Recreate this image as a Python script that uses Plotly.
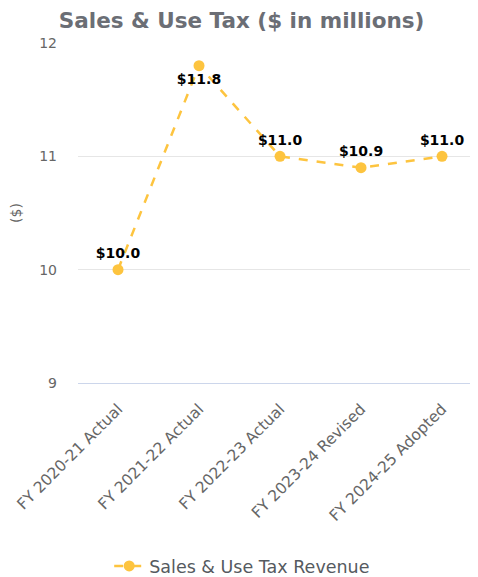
import plotly.graph_objects as go

categories = ["FY 2020-21 Actual", "FY 2021-22 Actual", "FY 2022-23 Actual",
              "FY 2023-24 Revised", "FY 2024-25 Adopted"]
values = [10.0, 11.8, 11.0, 10.9, 11.0]
labels = ["$10.0", "$11.8", "$11.0", "$10.9", "$11.0"]
label_pos = ["top center", "bottom center", "top center", "top center", "top center"]
y_ticks = [9, 10, 11, 12]

color = "#FDC43F"
font = "DejaVu Sans, sans-serif"

fig = go.Figure()
fig.add_trace(go.Scatter(
    x=categories, y=values, mode="lines+markers+text",
    name="Sales & Use Tax Revenue",
    line=dict(color=color, width=2.5, dash="dash"),
    marker=dict(color=color, size=11),
    text=labels, textposition=label_pos,
    textfont=dict(family=font, size=14, color="#000000", weight="bold"),
    cliponaxis=False,
))

# page has an 8px body margin, so the figure is shifted by 8px
H = 600
fig.update_layout(
    width=470, height=H,
    margin=dict(l=70, r=0, t=35, b=H - 375),
    paper_bgcolor="white", plot_bgcolor="white",
    title=dict(text="<b>Sales & Use Tax ($ in millions)</b>", x=0.497, xanchor="center",
               y=1 - 12 / H, yanchor="middle",
               font=dict(family=font, size=21.5, color="#6b6e75")),
    xaxis=dict(type="category", range=[-0.494, 4.444], showgrid=False, automargin=False,
               tickangle=-45, tickfont=dict(family=font, size=15.5, color="#666666"),
               showline=True, linecolor="#ccd6eb", linewidth=1, ticks="outside",
               ticklen=10, tickcolor="rgba(0,0,0,0)"),
    yaxis=dict(range=[9, 12], tickvals=y_ticks, showgrid=True, gridcolor="#e6e6e6",
               zeroline=False, automargin=False,
               tickfont=dict(family=font, size=14, color="#666666"),
               ticklabelstandoff=20,
               title=dict(text="($)", font=dict(family=font, size=14, color="#666666"),
                          standoff=22)),
    showlegend=True,
    legend=dict(orientation="h", x=0.078, xanchor="left", y=-183 / 340, yanchor="middle",
                font=dict(family=font, size=17.5, color="#555a60")),
)

fig.write_html("out.html")
